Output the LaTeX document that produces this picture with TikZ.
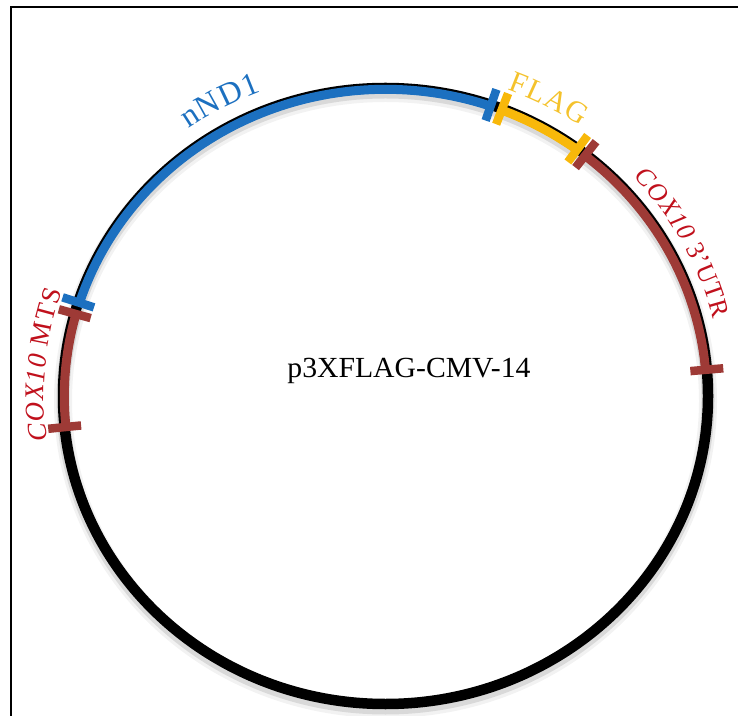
\documentclass[tikz,border=0pt]{standalone}
\usepackage{fontspec}
\setmainfont{Liberation Serif}
\usetikzlibrary{decorations.text}
\definecolor{ndblue}{RGB}{28,112,192}
\definecolor{flagy}{RGB}{248,184,10}
\definecolor{flagtxt}{RGB}{244,194,44}
\definecolor{coxbrown}{RGB}{158,58,54}
\definecolor{coxred}{RGB}{192,16,28}
\def\RX{322.5}
\def\RY{308}
\def\CX{321.2}
\def\CY{306.7}
\tikzset{
  ring/.style={line width=10.5pt, black},
  seg/.style={line width=9pt, line cap=butt},
  tickbar/.style={line width=8.5pt, line cap=butt},
  shadowring/.style={line width=13pt, black, opacity=0.10},
}
\begin{document}
\begin{tikzpicture}[x=1pt,y=1pt]
\useasboundingbox (0,0) rectangle (738,715);
% frame (left and top edges visible)
\draw[line width=2.4pt] (11,-5) -- (11,708) -- (745,708);

\begin{scope}[shift={(385.5,319)}]
  % soft shadow
  \draw[shadowring] (0,-4) ellipse [x radius=\RX pt, y radius=\RY pt];
  \draw[shadowring, opacity=0.05, line width=18pt] (0,-5) ellipse [x radius=\RX pt, y radius=\RY pt];
  % base ring
  \draw[ring] (0,0) ellipse [x radius=\RX pt, y radius=\RY pt];
  % coloured segments
  \draw[seg, ndblue] (162.3:\CX\space and \CY) arc[start angle=162.3, end angle=70.9, x radius=\CX pt, y radius=\CY pt];
  \draw[seg, flagy] (68.8:\CX\space and \CY) arc[start angle=68.8, end angle=53.4, x radius=\CX pt, y radius=\CY pt];
  \draw[seg, coxbrown] (51.6:\CX\space and \CY) arc[start angle=51.6, end angle=4.9, x radius=\CX pt, y radius=\CY pt];
  \draw[seg, coxbrown] (185.8:\CX\space and \CY) arc[start angle=185.8, end angle=164.5, x radius=\CX pt, y radius=\CY pt];
  % ticks
  \draw[tickbar, ndblue]   (162.3:306 and 291.5) -- (162.3:339 and 324.5);
  \draw[tickbar, coxbrown] (164.5:306 and 291.5) -- (164.5:339 and 324.5);
  \draw[tickbar, coxbrown] (185.8:306 and 291.5) -- (185.8:339 and 324.5);
  \draw[tickbar, ndblue]   (70.9:306 and 291.5) -- (70.9:339 and 324.5);
  \draw[tickbar, flagy]    (68.8:306 and 291.5) -- (68.8:339 and 324.5);
  \draw[tickbar, flagy]    (53.4:306 and 291.5) -- (53.4:339 and 324.5);
  \draw[tickbar, coxbrown] (51.6:306 and 291.5) -- (51.6:339 and 324.5);
  \draw[tickbar, coxbrown] (4.9:306 and 291.5) -- (4.9:339 and 324.5);
  % curved labels
  \path[decorate, decoration={text along path, text align=center, raise=19pt,
      text={|\fontsize{32}{34}\selectfont\color{ndblue}|nND1}}]
    (141:\RX\space and \RY) arc[start angle=141, end angle=96, x radius=\RX pt, y radius=\RY pt];
  \path[decorate, decoration={text along path, text align=center, raise=20pt,
      text={|\fontsize{30}{32}\selectfont\color{flagtxt}|FLAG}}]
    (80:\RX\space and \RY) arc[start angle=80, end angle=44, x radius=\RX pt, y radius=\RY pt];
  \path[decorate, decoration={text along path, text align=center, raise=15pt,
      text={|\fontsize{26}{30}\selectfont\itshape\color{coxred}|COX10 |\fontsize{26}{30}\selectfont\upshape\color{coxred}|3’UTR}}]
    (55:\RX\space and \RY) arc[start angle=55, end angle=1, x radius=\RX pt, y radius=\RY pt];
  \path[decorate, decoration={text along path, text align=center, raise=19pt,
      text={|\fontsize{27}{30}\selectfont\itshape\color{coxred}|COX10 |\fontsize{27}{30}\selectfont\upshape\color{coxred}|MTS}}]
    (200:\RX\space and \RY) arc[start angle=200, end angle=149.2, x radius=\RX pt, y radius=\RY pt];
\end{scope}

\node[anchor=base, inner sep=0pt] (title) at (409,337)
  {\scalebox{1.1}[1.08]{\fontsize{27}{30}\selectfont p3XFLAG-CMV-14}};
\end{tikzpicture}
\end{document}
